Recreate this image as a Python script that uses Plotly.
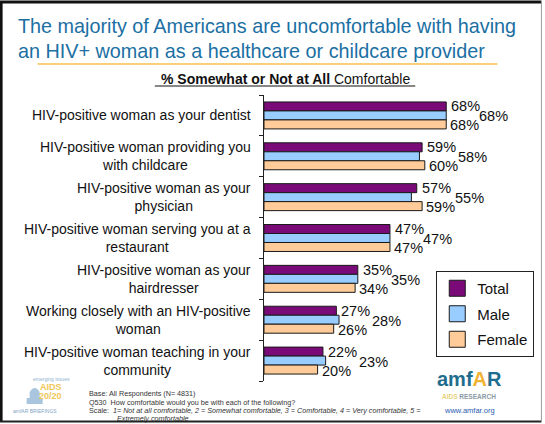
import plotly.graph_objects as go

categories = [
    "HIV-positive woman as your dentist",
    "HIV-positive woman providing you<br>with childcare",
    "HIV-positive woman as your<br>physician",
    "HIV-positive woman serving you at a<br>restaurant",
    "HIV-positive woman as your<br>hairdresser",
    "Working closely with an HIV-positive<br>woman",
    "HIV-positive woman teaching in your<br>community",
]
series_names = ["Total", "Male", "Female"]
total = [68, 59, 57, 47, 35, 27, 22]
male = [68, 58, 55, 47, 35, 28, 23]
female = [68, 60, 59, 47, 34, 26, 20]

W, H = 545, 424
ML, MR, MT, MB = 264, 13.4, 95, 43
PW = W - ML - MR
PH = H - MT - MB
FONT = "Liberation Sans, Arial, sans-serif"


def PX(x):
    return (x - ML) / PW


def PY(y):
    return 1 - (y - MT) / PH


colors = {"Total": "#7a0a78", "Male": "#99ccff", "Female": "#ffcc99"}
values = {"Total": total, "Male": male, "Female": female}
pos = list(range(len(categories)))

fig = go.Figure()
for name in series_names:
    fig.add_trace(go.Bar(
        x=values[name], y=pos, orientation="h", name=name,
        marker=dict(color=colors[name], line=dict(color="#1a1a1a", width=1)),
        showlegend=False, hoverinfo="skip",
    ))
# legend entries with larger square symbols
for name in series_names:
    fig.add_trace(go.Scatter(
        x=[None], y=[None], mode="markers", name=name, legendgroup=name,
        marker=dict(symbol="square", size=16, color=colors[name],
                    line=dict(color="#1a1a1a", width=1)),
    ))

ann = []
lab_font = dict(family=FONT, size=14.5, color="#111111")
for i in pos:
    ann.append(dict(x=total[i], y=i, xref="x", yref="y", text=f"{total[i]}%",
                    showarrow=False, xanchor="left", yanchor="middle",
                    xshift=3, yshift=9, font=lab_font))
    ann.append(dict(x=max(total[i], male[i], female[i]), y=i, xref="x", yref="y",
                    text=f"{male[i]}%", showarrow=False, xanchor="left",
                    yanchor="middle", xshift=31, yshift=-1, font=lab_font))
    ann.append(dict(x=female[i], y=i, xref="x", yref="y", text=f"{female[i]}%",
                    showarrow=False, xanchor="left", yanchor="middle",
                    xshift=2, yshift=-10, font=lab_font))
    # category labels
    ann.append(dict(x=PX(253), y=i, xref="paper", yref="y", text=categories[i],
                    showarrow=False, xanchor="right", yanchor="middle", align="center",
                    font=dict(family=FONT, size=14, color="#111111")))

title_col = "#1b6fa3"
foot = dict(family=FONT, size=7.2, color="#333333")
ann += [
    dict(x=PX(16), y=PY(26), xref="paper", yref="paper", showarrow=False,
         xanchor="left", yanchor="middle",
         text="The majority of Americans are uncomfortable with having",
         font=dict(family=FONT, size=19.8, color=title_col)),
    dict(x=PX(16), y=PY(51), xref="paper", yref="paper", showarrow=False,
         xanchor="left", yanchor="middle",
         text="an HIV+ woman as a healthcare or childcare provider",
         font=dict(family=FONT, size=19.8, color=title_col)),
    dict(x=PX(285), y=PY(79), xref="paper", yref="paper", showarrow=False,
         xanchor="center", yanchor="middle",
         text="<b>% Somewhat or Not at All</b> Comfortable",
         font=dict(family=FONT, size=14, color="#111111")),
    # footer notes
    dict(x=PX(87), y=PY(393), xref="paper", yref="paper", showarrow=False,
         xanchor="left", yanchor="middle", text="Base: All Respondents (N= 4831)",
         font=foot),
    dict(x=PX(87), y=PY(402), xref="paper", yref="paper", showarrow=False,
         xanchor="left", yanchor="middle",
         text="Q530  How comfortable would you be with each of the following?",
         font=foot),
    dict(x=PX(87), y=PY(410.5), xref="paper", yref="paper", showarrow=False,
         xanchor="left", yanchor="middle",
         text="Scale:  <i>1= Not at all comfortable, 2 = Somewhat comfortable, 3 = Comfortable, 4 = Very comfortable, 5 =</i>",
         font=foot),
    dict(x=PX(115), y=PY(418), xref="paper", yref="paper", showarrow=False,
         xanchor="left", yanchor="middle", text="<i>Extremely comfortable</i>",
         font=foot),
    # amfAR logo (right)
    dict(x=PX(469), y=PY(379), xref="paper", yref="paper", showarrow=False,
         xanchor="center", yanchor="middle",
         text="<b><span style='color:#1f6d8e'>amf</span><span style='color:#f2b233'>A</span><span style='color:#1f6d8e'>R</span></b>",
         font=dict(family=FONT, size=20)),
    dict(x=PX(469), y=PY(396.5), xref="paper", yref="paper", showarrow=False,
         xanchor="center", yanchor="middle",
         text="<b><span style='color:#e8d27a'>AIDS</span> <span style='color:#8a9aa4'>RESEARCH</span></b>",
         font=dict(family=FONT, size=6.5)),
    dict(x=PX(469), y=PY(410), xref="paper", yref="paper", showarrow=False,
         xanchor="center", yanchor="middle", text="www.amfar.org",
         font=dict(family=FONT, size=7.5, color="#2a5ab0")),
    # left logo
    dict(x=PX(52), y=PY(379), xref="paper", yref="paper", showarrow=False,
         xanchor="center", yanchor="middle", text="emerging issues",
         font=dict(family=FONT, size=5, color="#8fb3cf")),
    dict(x=PX(51), y=PY(387), xref="paper", yref="paper", showarrow=False,
         xanchor="center", yanchor="middle", text="<b>AIDS</b>",
         font=dict(family=FONT, size=9, color="#f0c75a")),
    dict(x=PX(51), y=PY(396), xref="paper", yref="paper", showarrow=False,
         xanchor="center", yanchor="middle", text="<b>20/20</b>",
         font=dict(family=FONT, size=9, color="#f0c75a")),
    dict(x=PX(35), y=PY(411), xref="paper", yref="paper", showarrow=False,
         xanchor="center", yanchor="middle", text="amfAR BRIEFINGS",
         font=dict(family=FONT, size=5, color="#7fa3c3")),
]

shapes = [
    # orange underline under title
    dict(type="line", xref="paper", yref="paper", x0=PX(38), x1=PX(497),
         y0=PY(64), y1=PY(64), line=dict(color="#f7c04a", width=1.5)),
    # subtitle underline
    dict(type="line", xref="paper", yref="paper", x0=PX(155), x1=PX(415),
         y0=PY(86), y1=PY(86), line=dict(color="#111111", width=1)),
    # capitol icon (left logo)
    dict(type="path", xref="paper", yref="paper",
         path=f"M {PX(27)},{PY(404)} L {PX(43)},{PY(404)} L {PX(43)},{PY(398)} L {PX(40)},{PY(398)} "
              f"L {PX(40)},{PY(392)} Q {PX(35)},{PY(384)} {PX(30)},{PY(392)} L {PX(30)},{PY(398)} "
              f"L {PX(27)},{PY(398)} Z",
         fillcolor="#a9c6de", line=dict(width=0)),
    # slide frame
    dict(type="line", xref="paper", yref="paper", x0=PX(1.5), x1=PX(1.5),
         y0=PY(1), y1=PY(422), line=dict(color="#111111", width=3)),
    dict(type="line", xref="paper", yref="paper", x0=PX(0), x1=PX(541),
         y0=PY(2), y1=PY(2), line=dict(color="#111111", width=3)),
    dict(type="line", xref="paper", yref="paper", x0=PX(0), x1=PX(541),
         y0=PY(421.5), y1=PY(421.5), line=dict(color="#222222", width=2)),
    dict(type="line", xref="paper", yref="paper", x0=PX(541), x1=PX(541),
         y0=PY(1), y1=PY(422), line=dict(color="#9a9a9a", width=1)),
]

fig.update_layout(
    width=W, height=H,
    margin=dict(l=ML, r=MR, t=MT, b=MB, autoexpand=False),
    paper_bgcolor="white", plot_bgcolor="white",
    barmode="group", bargap=0.34, bargroupgap=0,
    font=dict(family=FONT, color="#111111"),
    xaxis=dict(range=[0, 100], visible=False, fixedrange=True),
    yaxis=dict(range=[len(categories) - 0.5, -0.5], showline=True,
               linecolor="#222222", linewidth=1,
               tickmode="array", tickvals=[i - 0.5 for i in range(len(categories) + 1)],
               ticks="outside", ticklen=4, tickcolor="#222222",
               showticklabels=False, showgrid=False, zeroline=False, fixedrange=True),
    legend=dict(x=PX(436), y=PY(271), xanchor="left", yanchor="top",
                bgcolor="white", bordercolor="#222222", borderwidth=1,
                font=dict(family=FONT, size=15, color="#111111"),
                tracegroupgap=3, itemwidth=30),
    annotations=ann,
    shapes=shapes,
    showlegend=True,
)

fig.write_html("out.html", config={"displayModeBar": False},
               post_script="document.body.style.margin='0';document.body.style.padding='0';")
